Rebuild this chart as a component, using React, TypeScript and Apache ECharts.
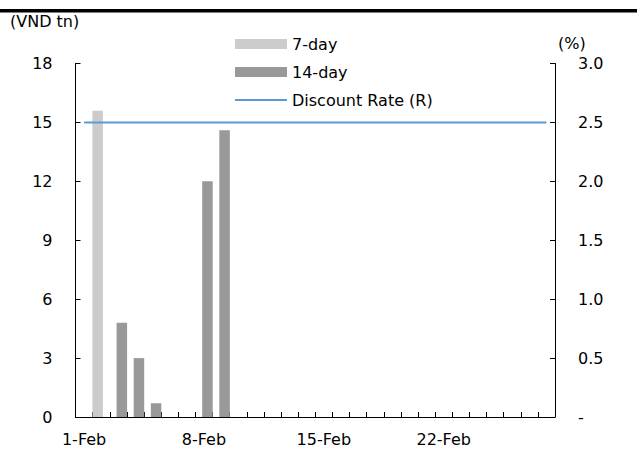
import React, { useEffect, useRef } from "react";
import * as echarts from "echarts";

const dates: string[] = Array.from({ length: 28 }, (_, i) => `${i + 1}-Feb`);
const sevenDay: (number | null)[] = [
  null, 15.6, null, null, null, null, null, null, null, null, null, null, null, null,
  null, null, null, null, null, null, null, null, null, null, null, null, null, null,
];
const fourteenDay: (number | null)[] = [
  null, null, 4.8, 3.0, 0.7, null, null, 12.0, 14.6, null, null, null, null, null,
  null, null, null, null, null, null, null, null, null, null, null, null, null, null,
];
const discountRate: number[] = dates.map(() => 2.5);

const FONT = "DejaVu Sans";

export default function App() {
  const ref = useRef<HTMLDivElement>(null);
  useEffect(() => {
    if (!ref.current) return;
    const chart = echarts.init(ref.current, undefined, { renderer: "svg" });
    chart.setOption({
      animation: false,
      backgroundColor: "#ffffff",
      textStyle: { fontFamily: FONT },
      grid: { left: 75.5, right: 82, top: 63.5, bottom: 35, containLabel: false },
      legend: {
        orient: "vertical",
        left: 230,
        top: 30,
        itemWidth: 52,
        itemHeight: 10,
        itemGap: 10,
        icon: "rect",
        textStyle: { fontFamily: FONT, fontSize: 16, color: "#000", lineHeight: 18 },
        data: [
          { name: "7-day", icon: "rect" },
          { name: "14-day", icon: "rect" },
          { name: "Discount Rate (R)", icon: "path://M0,4 L52,4 L52,6 L0,6 Z" },
        ],
      },
      graphic: [
        { type: "rect", left: 0, top: 9, shape: { width: 637, height: 3.5 }, style: { fill: "#000" } },
        { type: "text", left: 10, top: 13, style: { text: "(VND tn)", font: `16px '${FONT}'`, fill: "#000" } },
        { type: "text", left: 558, top: 35, style: { text: "(%)", font: `16px '${FONT}'`, fill: "#000" } },
      ],
      xAxis: {
        type: "category",
        data: dates,
        boundaryGap: true,
        axisLine: { lineStyle: { color: "#000", width: 1 } },
        axisTick: { show: true, inside: true, interval: 0, length: 5, lineStyle: { color: "#000" } },
        axisLabel: { interval: 6, color: "#000", fontSize: 16, fontFamily: FONT, margin: 14 },
      },
      yAxis: [
        {
          type: "value",
          min: 0,
          max: 18,
          interval: 3,
          splitLine: { show: false },
          axisLine: { show: true, lineStyle: { color: "#000", width: 1 } },
          axisTick: { show: true, inside: true, length: 5, lineStyle: { color: "#000" } },
          axisLabel: { color: "#000", fontSize: 16, fontFamily: FONT, margin: 23 },
        },
        {
          type: "value",
          min: 0,
          max: 3,
          interval: 0.5,
          position: "right",
          splitLine: { show: false },
          axisLine: { show: true, lineStyle: { color: "#000", width: 1 } },
          axisTick: { show: true, inside: true, length: 5, lineStyle: { color: "#000" } },
          axisLabel: {
            color: "#000",
            fontSize: 16,
            fontFamily: FONT,
            margin: 23,
            formatter: (v: number) => (v === 0 ? "-" : v.toFixed(1)),
          },
        },
      ],
      series: [
        {
          name: "7-day",
          type: "bar",
          data: sevenDay,
          barWidth: 10.5,
          barGap: "-33%",
          itemStyle: { color: "#cccccc" },
        },
        {
          name: "14-day",
          type: "bar",
          data: fourteenDay,
          barWidth: 10.5,
          barGap: "-33%",
          itemStyle: { color: "#999999" },
        },
        {
          name: "Discount Rate (R)",
          type: "line",
          yAxisIndex: 1,
          data: discountRate,
          symbol: "none",
          lineStyle: { color: "#5B9BD5", width: 2 },
          itemStyle: { color: "#5B9BD5" },
        },
      ],
    });
    return () => chart.dispose();
  }, []);
  return (
    <div
      ref={ref}
      style={{ position: "fixed", left: 0, top: 0, width: 637, height: 452 }}
    />
  );
}
